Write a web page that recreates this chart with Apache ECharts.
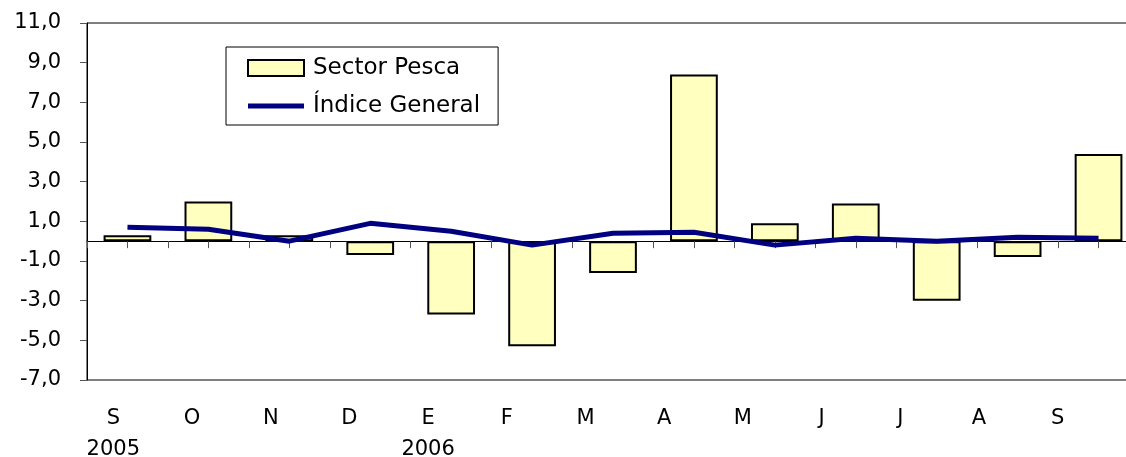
<!DOCTYPE html>
<html>
<head>
<meta charset="utf-8">
<script src="https://cdn.jsdelivr.net/npm/echarts@6/dist/echarts.min.js"></script>
<style>
  html, body { margin: 0; padding: 0; background: #fff; }
  #chart { width: 1126px; height: 457px; }
</style>
</head>
<body>
<div id="chart"></div>
<script>
// 数据
const months = ['S', 'O', 'N', 'D', 'E', 'F', 'M', 'A', 'M', 'J', 'J', 'A', 'S'];
const years = ['2005', '', '', '', '2006', '', '', '', '', '', '', '', ''];
const sectorPesca = [0.3, 2.0, 0.3, -0.7, -3.7, -5.3, -1.6, 8.4, 0.9, 1.9, -3.0, -0.8, 4.4];
const indiceGeneral = [0.7, 0.6, 0.0, 0.9, 0.5, -0.2, 0.4, 0.45, -0.2, 0.15, 0.0, 0.2, 0.15];
const yTicks = [-7, -5, -3, -1, 1, 3, 5, 7, 9, 11];

const fontFamily = 'DejaVu Sans';
const axisLabels = months.map((m, i) => years[i] ? m + '\n' + years[i] : m);

// 图例里的粗线（上下两条极细的边只是为了撑开图标高度）
const lineIcon = 'path://M0,0H56V0.01H0Z M0,5.5H56V10.5H0Z M0,15.99H56V16H0Z';

let chart = echarts.init(document.getElementById('chart'));
let option = {
  animation: false,
  textStyle: { fontFamily: fontFamily, color: '#000' },
  grid: [
    // 主绘图区（右边框在画面外）
    { left: 87, top: 23, width: 1052, height: 357, show: true, borderColor: '#000', borderWidth: 1, containLabel: false, outerBoundsMode: 'none' },
    // 只用于放月份标签
    { left: 74, top: 23, width: 1023, height: 357, containLabel: false, outerBoundsMode: 'none' }
  ],
  legend: {
    orient: 'vertical',
    left: 226,
    top: 47,
    padding: [9, 18, 7, 21],
    itemWidth: 56,
    itemHeight: 16,
    itemGap: 14,
    borderColor: '#000',
    borderWidth: 1,
    backgroundColor: '#fff',
    textStyle: { fontFamily: fontFamily, fontSize: 23, color: '#000', lineHeight: 24, padding: [0, 0, 0, 4] },
    data: [
      { name: 'Sector Pesca', icon: 'rect' },
      { name: 'Índice General', icon: lineIcon, itemStyle: { color: '#000080', borderWidth: 0 } }
    ]
  },
  xAxis: [
    {
      // 类别边界的刻度 + 零线
      type: 'category',
      gridIndex: 0,
      data: months,
      boundaryGap: true,
      axisLine: { onZero: true, lineStyle: { color: '#000', width: 1 } },
      axisTick: { show: true, alignWithLabel: false, length: 7, lineStyle: { color: '#555' } },
      axisLabel: { show: false },
      splitLine: { show: false }
    },
    {
      // 类别中心的刻度
      type: 'category',
      gridIndex: 0,
      position: 'bottom',
      data: months,
      boundaryGap: true,
      axisLine: { show: true, onZero: true, onZeroAxisIndex: 2, lineStyle: { color: 'rgba(0,0,0,0)' } },
      axisTick: { show: true, alignWithLabel: true, length: 7, lineStyle: { color: '#555' } },
      axisLabel: { show: false },
      splitLine: { show: false }
    },
    {
      type: 'category',
      gridIndex: 1,
      position: 'bottom',
      data: axisLabels,
      axisLine: { show: false, onZero: false },
      axisTick: { show: false },
      axisLabel: { margin: 23, fontSize: 21, lineHeight: 31, color: '#000', fontFamily: fontFamily, interval: 0 },
      splitLine: { show: false }
    }
  ],
  yAxis: [
    {
      type: 'value',
      gridIndex: 0,
      min: -7,
      max: 11,
      axisLine: { show: true, lineStyle: { color: '#000' } },
      axisTick: { show: true, length: 7, customValues: yTicks, lineStyle: { color: '#555' } },
      axisLabel: {
        customValues: yTicks,
        margin: 26,
        fontSize: 21,
        color: '#000',
        fontFamily: fontFamily,
        formatter: (v) => v.toFixed(1).replace('.', ',')
      },
      splitLine: { show: false }
    },
    { type: 'value', gridIndex: 1, show: false, min: -7, max: 11 },
    { type: 'value', gridIndex: 0, show: false, min: -7, max: 11 }
  ],
  series: [
    {
      name: 'Sector Pesca',
      type: 'bar',
      xAxisIndex: 0,
      yAxisIndex: 0,
      data: sectorPesca,
      barCategoryGap: '41%',
      itemStyle: { color: '#ffffc0', borderColor: '#000', borderWidth: 2 }
    },
    {
      name: 'Índice General',
      type: 'line',
      xAxisIndex: 0,
      yAxisIndex: 0,
      data: indiceGeneral,
      symbol: 'none',
      itemStyle: { color: '#000080' },
      lineStyle: { color: '#000080', width: 5 }
    }
  ]
};
chart.setOption(option);
</script>
</body>
</html>
